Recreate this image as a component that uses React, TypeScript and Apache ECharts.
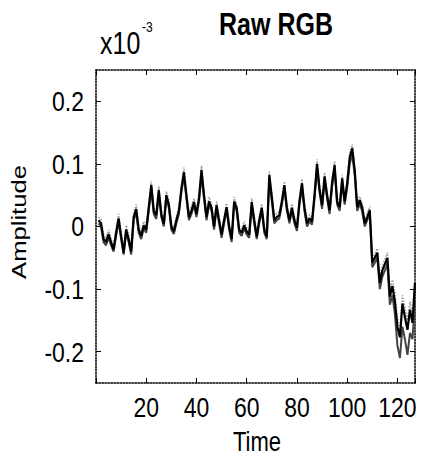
import React, { useEffect, useRef } from "react";
import * as echarts from "echarts";

const FONT = "'Liberation Sans', Arial, sans-serif";
const STRETCH = 1.22; // the reference figure is stretched vertically

const titleText = "Raw RGB";
const xName = "Time";
const yName = "Amplitude";
const xTicks = [20, 40, 60, 80, 100, 120];
const yTicks = [-0.2, -0.1, 0, 0.1, 0.2];

// amplitude (x10^-3) per time sample 1..127
const seriesR = [
  0.010, 0.005, -0.02, -0.025, -0.012, -0.025, -0.037, -0.01, 0.013, -0.015,
  -0.042, -0.005, -0.02, -0.04, 0.015, 0.028, -0.005, -0.015, 0.002, -0.005,
  0.03, 0.066, 0.025, 0.018, 0.058, 0.02, 0.004, 0.05, 0.035, 0.0,
  -0.008, 0.01, 0.025, 0.06, 0.087, 0.05, 0.015, 0.025, 0.039, 0.02,
  0.045, 0.09, 0.05, 0.015, 0.04, 0.03, 0.0, 0.034, 0.01, -0.013,
  0.01, 0.031, 0.0, -0.02, 0.04, 0.03, -0.005, -0.01, 0.002, -0.008,
  -0.013, 0.039, 0.01, -0.016, 0.01, 0.03, -0.005, -0.016, 0.082, 0.047,
  0.01, 0.015, 0.018, 0.04, 0.066, 0.03, 0.01, 0.03, 0.01, -0.002,
  0.04, 0.069, 0.03, 0.005, 0.013, 0.008, 0.05, 0.1, 0.06, 0.034,
  0.08, 0.05, 0.026, 0.07, 0.098, 0.04, 0.031, 0.077, 0.04, 0.069,
  0.11, 0.125, 0.09, 0.031, 0.042, 0.03, 0.005, 0.015, 0.026, -0.058,
  -0.05, -0.042, -0.09, -0.07, -0.06, -0.05, -0.112, -0.095, -0.12, -0.16,
  -0.177, -0.123, -0.145, -0.165, -0.133, -0.154, -0.09,
];
const seriesG = [
  0.005, 0.0, -0.025, -0.03, -0.018, -0.03, -0.04, -0.015, 0.008, -0.02,
  -0.045, -0.01, -0.025, -0.045, 0.01, 0.022, -0.01, -0.02, -0.003, -0.01,
  0.025, 0.06, 0.02, 0.012, 0.052, 0.015, 0.0, 0.045, 0.03, -0.005,
  -0.012, 0.005, 0.02, 0.055, 0.08, 0.045, 0.01, 0.02, 0.034, 0.015,
  0.04, 0.082, 0.045, 0.01, 0.035, 0.025, -0.005, 0.028, 0.005, -0.018,
  0.005, 0.026, -0.005, -0.025, 0.035, 0.025, -0.01, -0.015, -0.003, -0.013,
  -0.018, 0.033, 0.005, -0.02, 0.005, 0.025, -0.01, -0.02, 0.075, 0.04,
  0.005, 0.01, 0.013, 0.035, 0.06, 0.025, 0.005, 0.025, 0.005, -0.007,
  0.035, 0.062, 0.025, 0.0, 0.008, 0.003, 0.045, 0.092, 0.055, 0.028,
  0.073, 0.045, 0.02, 0.064, 0.09, 0.035, 0.025, 0.07, 0.035, 0.062,
  0.1, 0.115, 0.082, 0.025, 0.036, 0.024, 0.0, 0.01, 0.02, -0.065,
  -0.058, -0.05, -0.1, -0.08, -0.07, -0.06, -0.125, -0.11, -0.14, -0.19,
  -0.21, -0.16, -0.18, -0.205, -0.17, -0.18, -0.12,
];
const seriesB = [
  0.015, 0.012, -0.012, -0.02, -0.005, -0.02, -0.03, -0.005, 0.02, -0.008,
  -0.035, 0.002, -0.012, -0.035, 0.022, 0.035, 0.002, -0.008, 0.008, 0.002,
  0.036, 0.072, 0.03, 0.025, 0.064, 0.027, 0.01, 0.056, 0.042, 0.006,
  -0.002, 0.016, 0.031, 0.066, 0.094, 0.056, 0.022, 0.032, 0.045, 0.026,
  0.052, 0.097, 0.056, 0.022, 0.047, 0.036, 0.006, 0.04, 0.016, -0.007,
  0.016, 0.037, 0.006, -0.014, 0.047, 0.036, 0.001, -0.004, 0.008, -0.002,
  -0.007, 0.045, 0.016, -0.01, 0.016, 0.036, 0.001, -0.01, 0.088, 0.054,
  0.016, 0.021, 0.024, 0.046, 0.072, 0.036, 0.016, 0.036, 0.016, 0.004,
  0.046, 0.076, 0.036, 0.011, 0.019, 0.014, 0.056, 0.107, 0.066, 0.04,
  0.086, 0.056, 0.032, 0.076, 0.104, 0.046, 0.037, 0.083, 0.046, 0.075,
  0.117, 0.132, 0.096, 0.037, 0.048, 0.036, 0.011, 0.021, 0.032, -0.05,
  -0.043, -0.035, -0.082, -0.062, -0.052, -0.042, -0.1, -0.085, -0.105, -0.145,
  -0.165, -0.11, -0.13, -0.15, -0.12, -0.14, -0.08,
];

const toPairs = (arr: number[]) => arr.map((v, i) => [i + 1, v]);
const yFmt = (v: number) => (Math.abs(v) < 1e-9 ? "0" : String(Math.round(v * 10) / 10));

export default function App() {
  const ref = useRef<HTMLDivElement>(null);
  useEffect(() => {
    if (!ref.current) return;
    const chart = echarts.init(ref.current, null, { renderer: "svg" });
    const frameLine = { show: true, onZero: false, lineStyle: { color: "#000", width: 1.5, type: "dotted" as const } };
    const tick = { show: true, inside: true, length: 5, lineStyle: { color: "#000", width: 1 } };

    const fixedTexts: any[] = [
      { id: "title", type: "text", x: 276, y: 25, scaleY: STRETCH, style: { text: titleText, font: `bold 25px ${FONT}`, fill: "#000", textAlign: "center", textVerticalAlign: "middle" } },
      { id: "exp", type: "text", x: 100, y: 44, scaleY: STRETCH, style: { text: "x10", font: `25px ${FONT}`, fill: "#000", textAlign: "left", textVerticalAlign: "middle" } },
      { id: "expsup", type: "text", x: 142, y: 27, scaleY: STRETCH, style: { text: "-3", font: `12px ${FONT}`, fill: "#000", textAlign: "left", textVerticalAlign: "middle" } },
      { id: "yname", type: "text", x: 19, y: 222, rotation: Math.PI / 2, scaleX: STRETCH, style: { text: yName, font: `21px ${FONT}`, fill: "#000", textAlign: "center", textVerticalAlign: "middle" } },
      { id: "xname", type: "text", x: 257, y: 442, scaleY: STRETCH, style: { text: xName, font: `22px ${FONT}`, fill: "#000", textAlign: "center", textVerticalAlign: "middle" } },
    ];

    chart.setOption({
      animation: false,
      backgroundColor: "#fff",
      grid: { left: 96, right: 9, top: 70, bottom: 75, containLabel: false },
      xAxis: [
        {
          type: "value", min: 0, max: 127, interval: 20, position: "bottom",
          axisLine: frameLine, axisTick: tick, splitLine: { show: false }, axisLabel: { show: false },
        },
        {
          type: "value", min: 0, max: 127, interval: 20, position: "top",
          axisLine: frameLine, axisTick: tick, splitLine: { show: false }, axisLabel: { show: false },
        },
      ],
      yAxis: [
        {
          type: "value", min: -0.25, max: 0.25, position: "left",
          axisLine: frameLine, axisTick: { ...tick, customValues: yTicks }, splitLine: { show: false },
          axisLabel: { show: false },
        },
        {
          type: "value", min: -0.25, max: 0.25, position: "right",
          axisLine: frameLine, axisTick: { ...tick, customValues: yTicks }, splitLine: { show: false },
          axisLabel: { show: false },
        },
      ],
      series: [
        { type: "line", data: toPairs(seriesB), showSymbol: false, lineStyle: { color: "#999", width: 1.5, type: "dotted" }, z: 1 },
        { type: "line", data: toPairs(seriesG), showSymbol: false, lineStyle: { color: "#444", width: 2 }, z: 2 },
        { type: "line", data: toPairs(seriesR), showSymbol: false, lineStyle: { color: "#000", width: 2.2 }, z: 3 },
      ],
      graphic: fixedTexts,
    });

    // tick labels placed through the axes' own scales, stretched like the reference
    const tickTexts: any[] = [];
    xTicks.forEach((v, i) => {
      const px = chart.convertToPixel({ xAxisIndex: 0 }, v) as number;
      tickTexts.push({ id: "xt" + i, type: "text", x: px, y: 407, scaleY: STRETCH,
        style: { text: String(v), font: `23px ${FONT}`, fill: "#000", textAlign: "center", textVerticalAlign: "middle" } });
    });
    yTicks.forEach((v, i) => {
      const py = chart.convertToPixel({ yAxisIndex: 0 }, v) as number;
      tickTexts.push({ id: "yt" + i, type: "text", x: 84, y: py, scaleY: STRETCH,
        style: { text: yFmt(v), font: `23px ${FONT}`, fill: "#000", textAlign: "right", textVerticalAlign: "middle" } });
    });
    chart.setOption({ graphic: [...fixedTexts, ...tickTexts] });

    return () => chart.dispose();
  }, []);
  return <div ref={ref} style={{ position: "fixed", left: 0, top: 0, width: 424, height: 458 }} />;
}
